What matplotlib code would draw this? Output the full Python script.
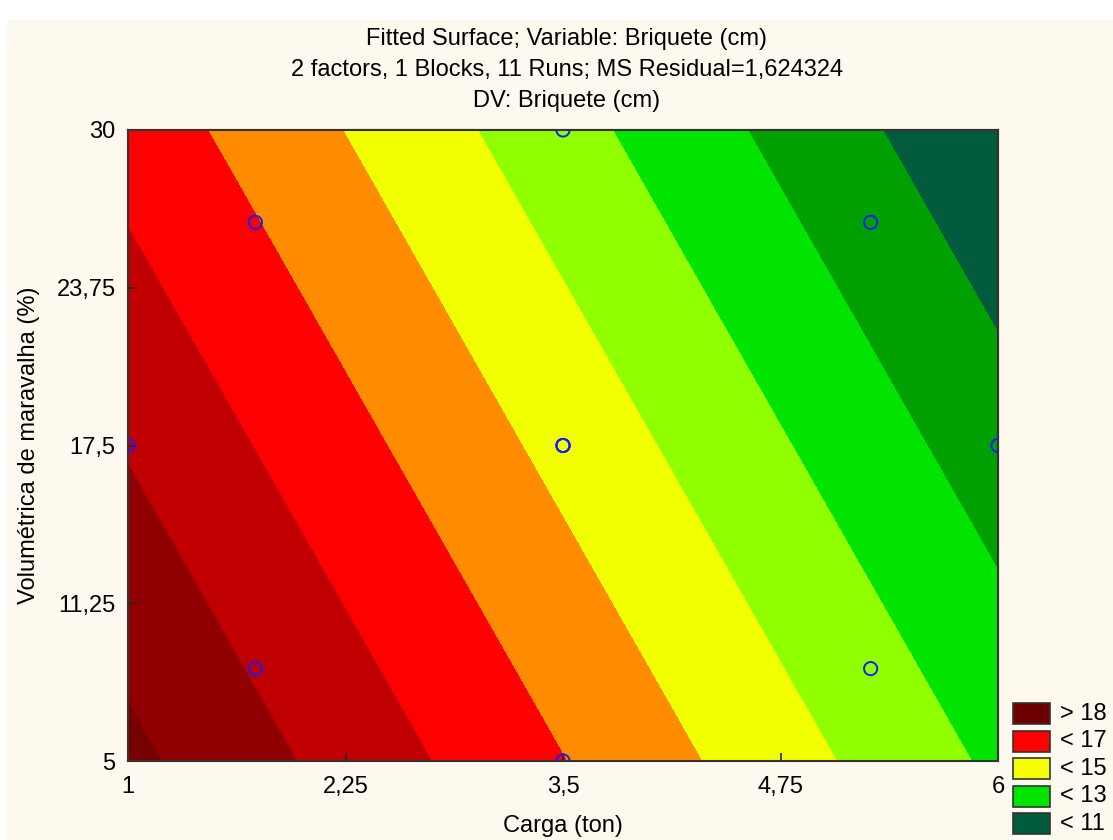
import numpy as np
import matplotlib
matplotlib.use("Agg")
import matplotlib.pyplot as plt
from matplotlib.patches import Rectangle

plt.rcParams['font.family'] = ['Liberation Sans', 'DejaVu Sans']

# fitted linear surface: Briquete = b0 + b1*Carga + b2*Volumetrica
b0, b1, b2 = 21.07, -1.289, -0.1064

# design points (11 runs, centre replicated)
carga = [1.0, 1.732, 1.732, 3.5, 3.5, 3.5, 3.5, 3.5, 5.268, 5.268, 6.0]
volum = [17.5, 26.34, 8.66, 30.0, 17.5, 17.5, 17.5, 5.0, 26.34, 8.66, 17.5]

levels = [0, 11, 12, 13, 14, 15, 16, 17, 18, 19, 40]
colors = ['#005c3c', '#00a000', '#00e400', '#90ff00', '#f2ff00',
          '#ff8c00', '#ff0000', '#c00000', '#900000', '#760000']

legend_labels = ['> 18', '< 17', '< 15', '< 13', '< 11']
legend_colors = ['#6e0000', '#ff0000', '#f5ff00', '#00e400', '#005c3c']

xticks = [1, 2.25, 3.5, 4.75, 6]
xtick_labels = ['1', '2,25', '3,5', '4,75', '6']
yticks = [5, 11.25, 17.5, 23.75, 30]
ytick_labels = ['5', '11,25', '17,5', '23,75', '30']

fs = 17

fig = plt.figure(figsize=(11.13, 8.4), dpi=100)
fig.patches.append(Rectangle((7 / 1113, 0), 1, 1 - 20 / 840, transform=fig.transFigure,
                             facecolor='#fef9ee', edgecolor='none', zorder=-10))

ax = fig.add_axes([128 / 1113, 1 - 761 / 840, 870 / 1113, 631 / 840])

gx, gy = np.meshgrid(np.linspace(1, 6, 200), np.linspace(5, 30, 200))
gz = b0 + b1 * gx + b2 * gy
ax.contourf(gx, gy, gz, levels=levels, colors=colors)

ax.scatter(carga, volum, s=90, facecolors='none', edgecolors='#1a1aff', linewidths=1.4, zorder=5)

ax.set_xlim(1, 6)
ax.set_ylim(5, 30)
ax.set_xticks(xticks)
ax.set_xticklabels(xtick_labels, fontsize=fs)
ax.set_yticks(yticks)
ax.set_yticklabels(ytick_labels, fontsize=fs)
ax.tick_params(direction='in', length=6, width=1.2, color='#222222')
ax.tick_params(axis='x', pad=11)
ax.tick_params(axis='y', pad=9)

# ticks on top/right at half spacing
sec_x = ax.secondary_xaxis('top')
sec_x.set_xticks(np.arange(1, 6.01, 0.625))
sec_x.set_xticklabels([])
sec_x.tick_params(direction='in', length=6, width=1.2, color='#222222')
sec_y = ax.secondary_yaxis('right')
sec_y.set_yticks(np.arange(5, 30.01, 3.125))
sec_y.set_yticklabels([])
sec_y.tick_params(direction='in', length=6, width=1.2, color='#222222')
for s in list(ax.spines.values()) + [sec_x.spines['top'], sec_y.spines['right']]:
    s.set_linewidth(1.5)
    s.set_color('#333333')

ax.set_xlabel('Carga (ton)', fontsize=fs, labelpad=12)
ax.set_ylabel('Volumétrica de maravalha (%)', fontsize=fs, labelpad=12)

fig.text(567 / 1113, 1 - 39 / 840, 'Fitted Surface; Variable: Briquete (cm)', ha='center', va='center', fontsize=fs)
fig.text(567 / 1113, 1 - 70 / 840, '2 factors, 1 Blocks, 11 Runs; MS Residual=1,624324', ha='center', va='center', fontsize=fs)
fig.text(567 / 1113, 1 - 101 / 840, 'DV: Briquete (cm)', ha='center', va='center', fontsize=fs)

# legend boxes
for i, (lab, col) in enumerate(zip(legend_labels, legend_colors)):
    y0 = 1 - (703 + i * 27.6 + 21) / 840
    fig.patches.append(Rectangle((1013 / 1113, y0), 37 / 1113, 21 / 840, transform=fig.transFigure,
                                 facecolor=col, edgecolor='#333333', linewidth=1.2))
    fig.text(1060 / 1113, y0 + 10.5 / 840, lab, ha='left', va='center', fontsize=fs)

fig.savefig('out.png', dpi=100, facecolor='white')
